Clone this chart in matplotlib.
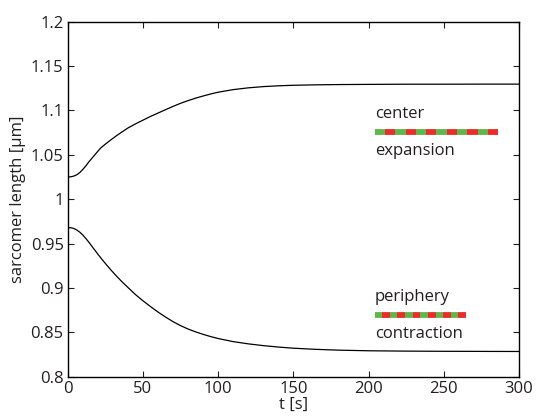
import numpy as np
import matplotlib
matplotlib.use("Agg")
import matplotlib.pyplot as plt

plt.rcParams['font.family'] = ['Open Sans', 'DejaVu Sans']

# time axis [s] and sarcomer length [um] of the two regions
t = [0, 2, 4, 6, 8, 10, 12, 14, 16, 18, 20, 22, 25, 28, 32, 36, 40, 45,
     50, 55, 60, 65, 70, 75, 80, 85, 90, 95, 100, 110, 120, 130, 140, 150,
     165, 180, 200, 225, 250, 275, 300]
center = [1.025, 1.0252, 1.026, 1.0275, 1.030, 1.0335, 1.0375, 1.042, 1.046,
          1.050, 1.054, 1.0578, 1.062, 1.066, 1.071, 1.0757, 1.0802, 1.0848,
          1.089, 1.0932, 1.097, 1.1008, 1.1045, 1.108, 1.111, 1.1138, 1.1162,
          1.1185, 1.1205, 1.1234, 1.1254, 1.1268, 1.1277, 1.1283, 1.1288,
          1.1291, 1.1293, 1.1295, 1.1295, 1.1296, 1.1296]
periphery = [0.968, 0.9678, 0.967, 0.9652, 0.9628, 0.9596, 0.9557, 0.9515,
             0.947, 0.9425, 0.938, 0.9337, 0.9275, 0.9215, 0.914, 0.907,
             0.9005, 0.8925, 0.8855, 0.879, 0.8728, 0.8672, 0.862, 0.8575,
             0.8537, 0.8505, 0.8477, 0.8452, 0.843, 0.8395, 0.837, 0.835,
             0.8334, 0.8321, 0.8308, 0.8299, 0.8292, 0.8288, 0.8286, 0.8285,
             0.8284]

labels_top = ["center", "expansion"]
labels_bottom = ["periphery", "contraction"]

xticks = [0, 50, 100, 150, 200, 250, 300]
yticks = [0.8, 0.85, 0.9, 0.95, 1.0, 1.05, 1.1, 1.15, 1.2]
yticklabels = ["0.8", "0.85", "0.9", "0.95", "1", "1.05", "1.1", "1.15", "1.2"]

green = '#5cb848'
red = '#ee2b2b'

fig = plt.figure(figsize=(5.36, 4.16), dpi=100)
ax = fig.add_axes([0.1265, 0.0945, 0.8415, 0.8535])

ax.plot(t, center, color='black', lw=0.9)
ax.plot(t, periphery, color='black', lw=0.9)


def dashed_bar(x0, x1, y, n):
    # alternating green/red segments
    edges = np.linspace(x0, x1, n + 1)
    for i in range(n):
        ax.plot(edges[i:i + 2], [y, y], color=green if i % 2 == 0 else red,
                lw=4.2, solid_capstyle='butt')


dashed_bar(204.1, 286.3, 1.0753, 12)
dashed_bar(204.1, 264.8, 0.870, 12)

fs = 12
ax.text(204.1, 1.091, labels_top[0], fontsize=fs, va='baseline', color='#231f20')
ax.text(204.1, 1.0497, labels_top[1], fontsize=fs, va='baseline', color='#231f20')
ax.text(204.1, 0.8856, labels_bottom[0], fontsize=fs, va='baseline', color='#231f20')
ax.text(204.1, 0.8432, labels_bottom[1], fontsize=fs, va='baseline', color='#231f20')

ax.set_xlim(0, 300)
ax.set_ylim(0.8, 1.2)
ax.set_xticks(xticks)
ax.set_yticks(yticks)
ax.set_yticklabels(yticklabels)
ax.tick_params(direction='in', length=4, width=0.8, top=True, right=True,
               labelsize=fs, colors='#231f20', pad=3)
for s in ax.spines.values():
    s.set_linewidth(1.0)

ax.set_xlabel("t [s]", fontsize=fs, labelpad=0, color='#231f20')
ax.set_ylabel("sarcomer length [\u03bcm]", fontsize=fs, labelpad=3, color='#231f20')

fig.savefig("out.png", dpi=100)
